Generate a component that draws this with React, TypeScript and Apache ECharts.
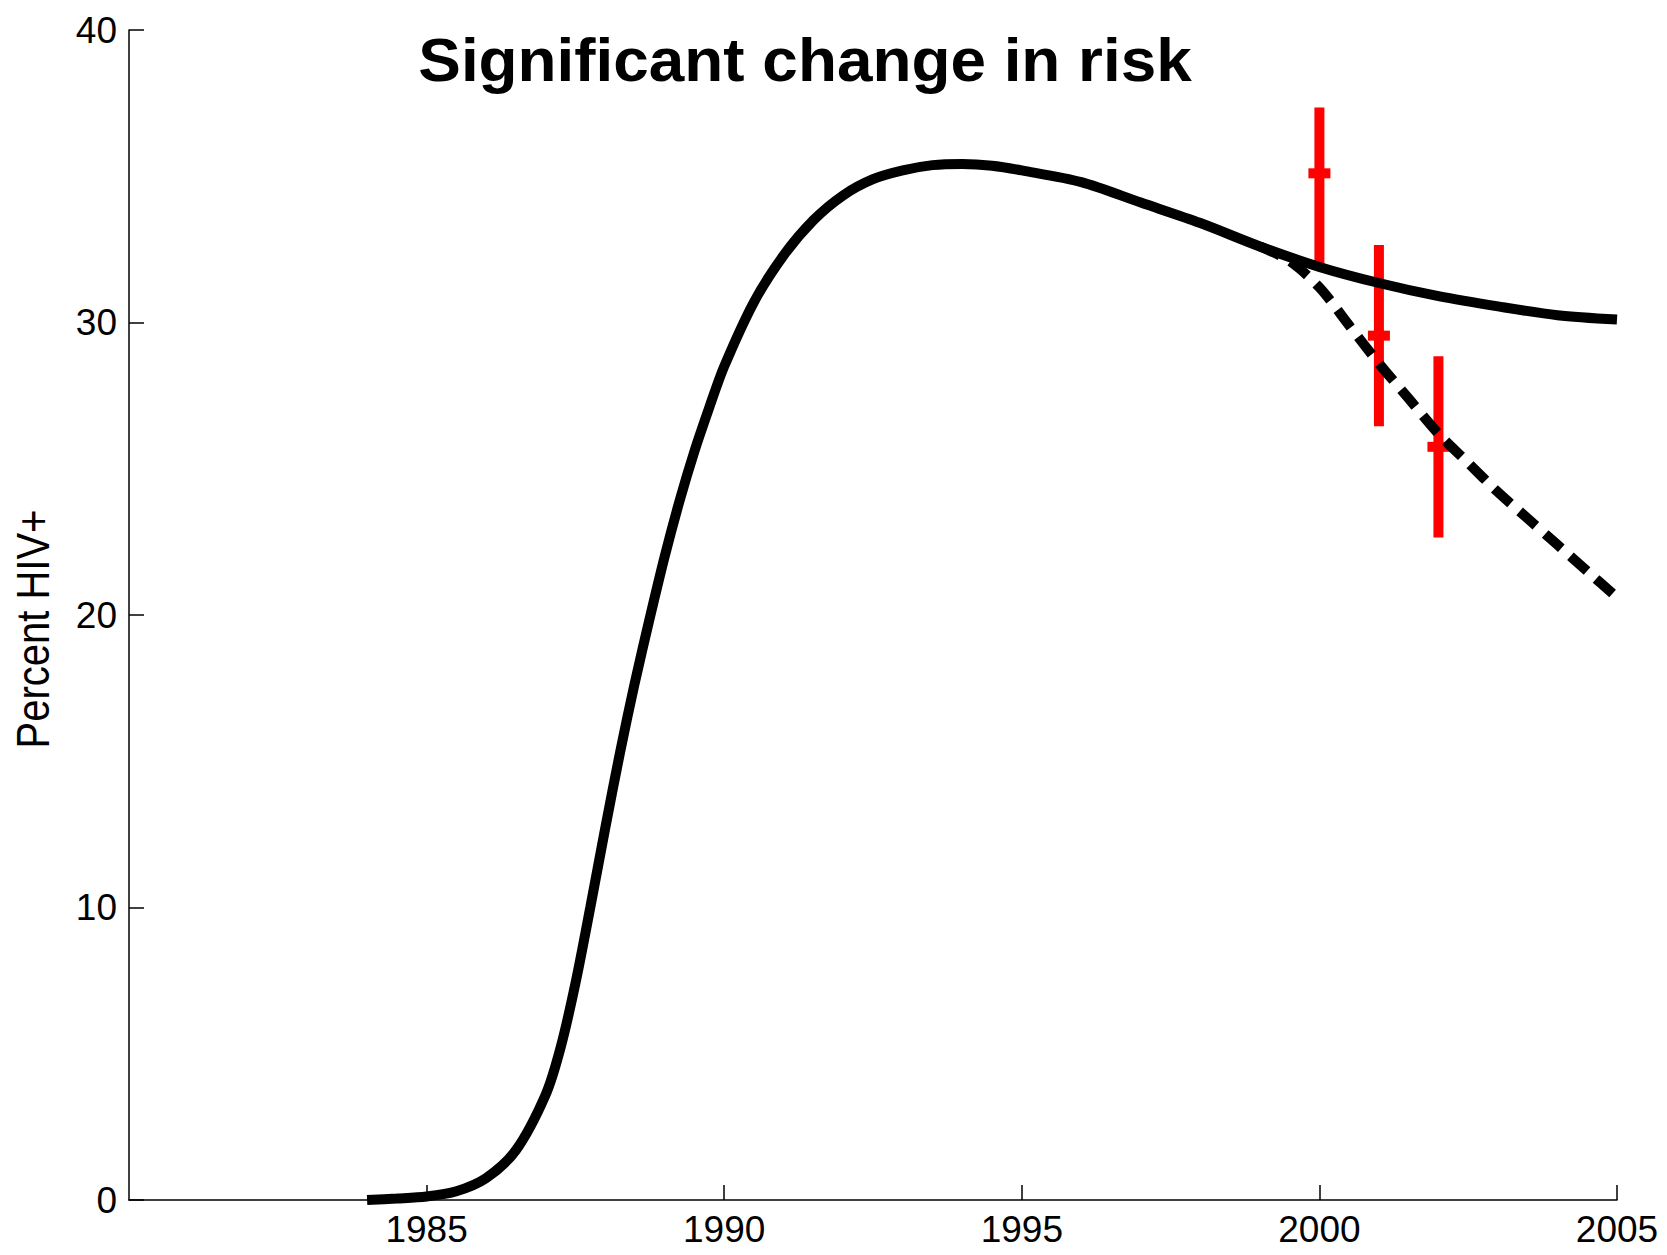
import React, { useEffect, useRef } from "react";
import * as echarts from "echarts";

const TITLE = "Significant change in risk";
const Y_NAME = "Percent HIV+";
const X_MIN = 1980;
const X_MAX = 2005;
const X_STEP = 5;
const Y_MIN = 0;
const Y_MAX = 40;
const Y_STEP = 10;

// Model prevalence, constant risk (solid)
const solidYears = [
  1984.0, 1984.5, 1985.0, 1985.5, 1986.0, 1986.5, 1987.0, 1987.25, 1987.5, 1987.75,
  1988.0, 1988.25, 1988.5, 1988.75, 1989.0, 1989.25, 1989.5, 1989.75, 1990.0, 1990.5,
  1991.0, 1991.5, 1992.0, 1992.5, 1993.0, 1993.5, 1994.0, 1994.5, 1995.0, 1996.0,
  1997.0, 1998.0, 1999.0, 2000.0, 2001.0, 2002.0, 2003.0, 2004.0, 2005.0,
];
const solidValues = [
  0.0, 0.05, 0.12, 0.3, 0.75, 1.7, 3.6, 5.2, 7.4, 10.0,
  12.7, 15.3, 17.7, 19.9, 22.0, 23.9, 25.6, 27.1, 28.5, 30.7,
  32.3, 33.5, 34.35, 34.9, 35.2, 35.38, 35.42, 35.36, 35.2, 34.8,
  34.1, 33.4, 32.6, 31.9, 31.35, 30.9, 30.55, 30.25, 30.1,
];

// Model prevalence with significant change in risk (dashed)
const dashedYears = [
  1999.0, 1999.5, 2000.0, 2000.5, 2001.0, 2001.5, 2002.0, 2002.5, 2003.0, 2003.5,
  2004.0, 2004.5, 2005.0,
];
const dashedValues = [
  32.6, 32.1, 31.2, 29.9, 28.6, 27.4, 26.2, 25.2, 24.2, 23.3,
  22.4, 21.5, 20.6,
];

// Observed prevalence with confidence bars
const obsYears = [2000, 2001, 2002];
const obsCenter = [35.1, 29.55, 25.75];
const obsLow = [31.9, 26.45, 22.65];
const obsHigh = [37.35, 32.65, 28.85];

const FONT = "'Liberation Sans', Arial, Helvetica, sans-serif";

export default function App() {
  const ref = useRef<HTMLDivElement>(null);

  useEffect(() => {
    if (!ref.current) return;
    const chart = echarts.init(ref.current, undefined, { renderer: "svg" });

    const solidData = solidYears.map((x, i) => [x, solidValues[i]]);
    const dashedData = dashedYears.map((x, i) => [x, dashedValues[i]]);
    const obsData = obsYears.map((x, i) => [x, obsLow[i], obsHigh[i], obsCenter[i]]);

    chart.setOption({
      animation: false,
      backgroundColor: "#ffffff",
      grid: { left: 129, right: 50, top: 30, bottom: 55, containLabel: false },
      xAxis: {
        type: "value",
        min: X_MIN,
        max: X_MAX,
        interval: X_STEP,
        axisLine: { show: true, lineStyle: { color: "#000", width: 1.5 } },
        axisTick: { show: true, inside: true, length: 15, lineStyle: { color: "#000", width: 1.5 } },
        axisLabel: {
          showMinLabel: false,
          margin: 11,
          fontSize: 37,
          fontFamily: FONT,
          color: "#000",
          formatter: (v: number) => String(v),
        },
        splitLine: { show: false },
      },
      yAxis: {
        type: "value",
        min: Y_MIN,
        max: Y_MAX,
        interval: Y_STEP,
        axisLine: { show: true, lineStyle: { color: "#000", width: 1.5 } },
        axisTick: { show: true, inside: true, length: 15, lineStyle: { color: "#000", width: 1.5 } },
        axisLabel: {
          margin: 12,
          fontSize: 37,
          fontFamily: FONT,
          color: "#000",
        },
        splitLine: { show: false },
      },
      graphic: [
        {
          type: "text",
          x: 805,
          y: 59,
          scaleX: 1.03,
          style: {
            text: TITLE,
            fontSize: 62,
            fontWeight: "bold",
            fontFamily: FONT,
            fill: "#000",
            textAlign: "center",
            textVerticalAlign: "middle",
          },
        },
        {
          type: "text",
          x: 33,
          y: 629,
          rotation: Math.PI / 2,
          scaleY: 1.15,
          style: {
            text: Y_NAME,
            fontSize: 40,
            fontFamily: FONT,
            fill: "#000",
            textAlign: "center",
            textVerticalAlign: "middle",
          },
        },
      ],
      series: [
        {
          type: "custom",
          name: "observed",
          z: 1,
          data: obsData,
          encode: { x: 0, y: [1, 2, 3] },
          renderItem: (params: any, api: any) => {
            const x = api.value(0);
            const lo = api.coord([x, api.value(1)]);
            const hi = api.coord([x, api.value(2)]);
            const c = api.coord([x, api.value(3)]);
            return {
              type: "group",
              children: [
                {
                  type: "rect",
                  shape: { x: hi[0] - 5, y: hi[1], width: 10, height: lo[1] - hi[1] },
                  style: { fill: "#ff0000" },
                },
                {
                  type: "rect",
                  shape: { x: c[0] - 11, y: c[1] - 5, width: 22, height: 10 },
                  style: { fill: "#ff0000" },
                },
              ],
            };
          },
        },
        {
          type: "line",
          name: "constant risk",
          z: 3,
          data: solidData,
          showSymbol: false,
          smooth: 0.3,
          lineStyle: { color: "#000", width: 10, type: "solid" },
          clip: true,
        },
        {
          type: "line",
          name: "changed risk",
          z: 2,
          data: dashedData,
          showSymbol: false,
          smooth: 0.3,
          lineStyle: { color: "#000", width: 10, type: [22, 12], cap: "butt" },
          clip: true,
        },
      ],
    });

    return () => chart.dispose();
  }, []);

  return (
    <div
      ref={ref}
      style={{ position: "absolute", left: 0, top: 0, width: 1667, height: 1255, background: "#fff" }}
    />
  );
}
